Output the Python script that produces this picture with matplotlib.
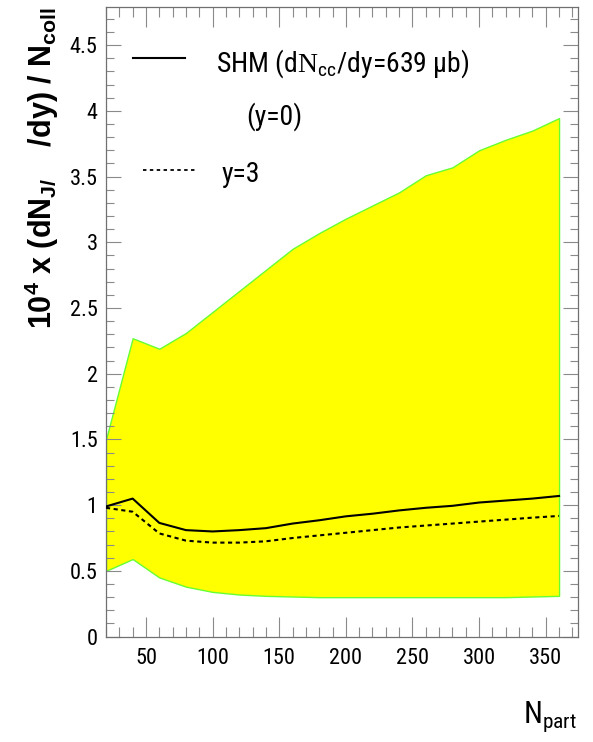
import matplotlib
matplotlib.use("Agg")
import matplotlib.pyplot as plt
from matplotlib.lines import Line2D
from matplotlib.ticker import MultipleLocator

# Centrality dependence of J/psi yield per binary collision (SHM)
n_part = [20, 40, 60, 80, 100, 120, 140, 160, 180, 200, 220, 240, 260, 280, 300, 320, 340, 360]
band_upper = [1.50, 2.27, 2.19, 2.31, 2.47, 2.63, 2.79, 2.95, 3.07, 3.18, 3.28, 3.38, 3.51, 3.57,
              3.70, 3.78, 3.85, 3.945]
band_lower = [0.50, 0.59, 0.45, 0.38, 0.34, 0.32, 0.31, 0.305, 0.30, 0.30, 0.30, 0.30, 0.30, 0.30,
              0.30, 0.30, 0.305, 0.31]
shm_y0 = [0.99, 1.05, 0.865, 0.81, 0.80, 0.81, 0.825, 0.86, 0.885, 0.915, 0.935, 0.96, 0.98,
          0.995, 1.02, 1.035, 1.05, 1.07]
shm_y3 = [0.98, 0.95, 0.785, 0.73, 0.715, 0.715, 0.725, 0.75, 0.77, 0.79, 0.81, 0.83, 0.845,
          0.86, 0.875, 0.89, 0.905, 0.918]
x_ticks = [50, 100, 150, 200, 250, 300, 350]
y_ticks = [0, 0.5, 1, 1.5, 2, 2.5, 3, 3.5, 4, 4.5]
y_tick_labels = ["0", "0.5", "1", "1.5", "2", "2.5", "3", "3.5", "4", "4.5"]

NARROW = ["Roboto Condensed", "Liberation Sans", "DejaVu Sans"]
plt.rcParams["font.family"] = NARROW
plt.rcParams["mathtext.default"] = "regular"
plt.rcParams["mathtext.fontset"] = "custom"
plt.rcParams["mathtext.sf"] = "Liberation Serif"
plt.rcParams["mathtext.rm"] = "Roboto Condensed"

W, H = 593, 742
fig = plt.figure(figsize=(W / 100, H / 100), dpi=100)
ax = fig.add_axes([106 / W, 1 - 636.6 / H, 471.7 / W, 629.6 / H])

ax.fill_between(n_part, band_lower, band_upper, facecolor="#ffff00", edgecolor="#66ff33",
                linewidth=1.0, zorder=1)
ax.plot(n_part, shm_y0, color="black", lw=1.5, zorder=3)
ax.plot(n_part, shm_y3, color="black", lw=1.5, ls=(0, (2.0, 1.7)), zorder=3)

ax.set_xlim(20, 374)
ax.set_ylim(0, 4.79)
ax.xaxis.set_minor_locator(MultipleLocator(10))
ax.yaxis.set_minor_locator(MultipleLocator(0.1))
ax.set_xticks(x_ticks)
ax.set_yticks(y_ticks)
ax.set_yticklabels(y_tick_labels)

ax.tick_params(axis="both", which="both", direction="in", top=True, right=True,
               colors="#8a8a8a", labelcolor="black", labelsize=16)
ax.tick_params(axis="x", which="major", length=14.5, width=0.8, pad=8)
ax.tick_params(axis="x", which="minor", length=7.2, width=0.8)
ax.tick_params(axis="y", which="major", length=10.8, width=0.8, pad=6)
ax.tick_params(axis="y", which="minor", length=5.8, width=0.8)
for s in ax.spines.values():
    s.set_color("#707070")
    s.set_linewidth(0.9)

ax.set_ylabel(r"10$^{4}$ x (dN$_{J/\ }$   /dy) / N$_{coll}$", fontsize=22, fontweight="bold",
              family=["Liberation Sans", "DejaVu Sans"], loc="top", labelpad=6)
fig.text(577 / W, 1 - 723 / H, r"N$_{part}$", fontsize=22, ha="right", va="baseline")

# legend entries
fig.add_artist(Line2D([133 / W, 185 / W], [1 - 58 / H, 1 - 58 / H], color="black", lw=1.5))
fig.add_artist(Line2D([143 / W, 197 / W], [1 - 170 / H, 1 - 170 / H], color="black", lw=1.3,
                      ls=(0, (1.9, 1.9))))
fig.text(216 / W, 1 - 71.7 / H, r"SHM (d$\mathsf{N}_{cc}$/dy=639 $\mu$b)", fontsize=20,
         va="baseline")
fig.text(246 / W, 1 - 125 / H, "(y=0)", fontsize=20, va="baseline")
fig.text(222 / W, 1 - 181.7 / H, "y=3", fontsize=20, va="baseline")

fig.savefig("out.png", dpi=100)
